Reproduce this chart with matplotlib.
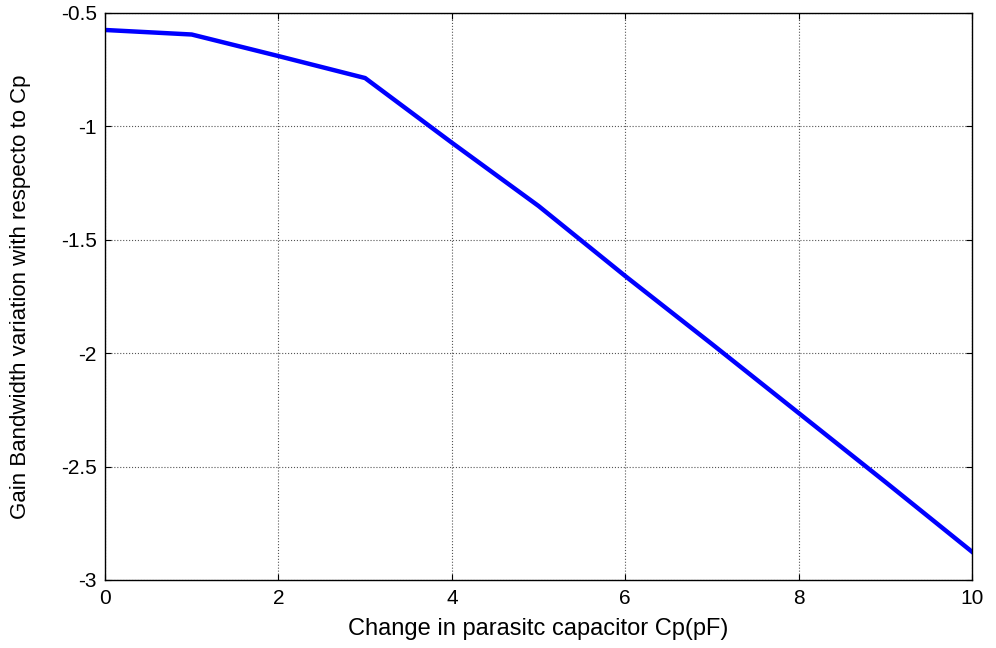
import matplotlib
matplotlib.use('Agg')
import matplotlib.pyplot as plt

# gain bandwidth variation vs parasitic capacitance
cp = [0, 1, 2, 3, 4, 5, 6, 7, 8, 9, 10]
gbw = [-0.575, -0.595, -0.69, -0.787, -1.072, -1.351, -1.66, -1.96, -2.264, -2.568, -2.876]

plt.rcParams['font.family'] = ['Liberation Sans', 'DejaVu Sans']

fig = plt.figure(figsize=(9.96, 6.48), dpi=100)
ax = fig.add_axes([0.1054, 0.105, 0.8706, 0.875])

ax.plot(cp, gbw, color='#0000ff', linewidth=3.2)

ax.set_xlim(0, 10)
ax.set_ylim(-3, -0.5)
ax.set_xticks([0, 2, 4, 6, 8, 10])
ax.set_yticks([-3, -2.5, -2, -1.5, -1, -0.5])
ax.set_yticklabels(['-3', '-2.5', '-2', '-1.5', '-1', '-0.5'])
ax.set_xticklabels(['0', '2', '4', '6', '8', '10'])

ax.grid(True, color='#555555', linestyle=':', linewidth=0.8)
ax.tick_params(direction='in', top=True, right=True, length=4, labelsize=15)
ax.tick_params(axis='x', pad=6.5)
ax.tick_params(axis='y', pad=6)
for s in ax.spines.values():
    s.set_linewidth(1.0)

ax.set_xlabel('Change in parasitc capacitor Cp(pF)', fontsize=17)
ax.set_ylabel('Gain Bandwidth variation with respecto to Cp', fontsize=16)
ax.xaxis.set_label_coords(0.5, -0.067)
ax.yaxis.set_label_coords(-0.085, 0.5)

fig.savefig('out.png', dpi=100)
